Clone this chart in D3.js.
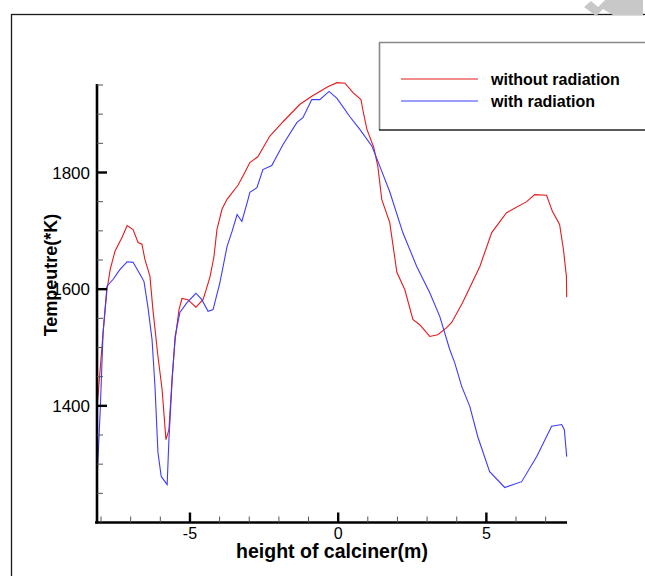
<!DOCTYPE html>
<html>
<head>
<meta charset="utf-8">
<script src="https://cdn.jsdelivr.net/npm/d3@7"></script>
<style>
    body { margin: 0; background: #fff; }
    svg { display: block; font-family: "Liberation Sans", Arial, sans-serif; }
</style>
</head>
<body>
<script>
// data: height (m) vs temperature (K)
const withoutRadX = [-8.13, -7.93, -7.80, -7.69, -7.53, -7.29, -7.12, -6.92, -6.75, -6.62, -6.52, -6.35, -6.25, -6.08, -5.94, -5.81, -5.71, -5.60, -5.50, -5.37, -5.27, -5.07, -4.80, -4.56, -4.43, -4.32, -4.19, -4.09, -3.92, -3.75, -3.37, -3.15, -2.98, -2.71, -2.31, -1.86, -1.29, -0.85, -0.62, -0.35, -0.04, 0.23, 0.50, 0.77, 0.83, 0.97, 1.20, 1.34, 1.47, 1.74, 1.98, 2.25, 2.52, 2.75, 3.09, 3.36, 3.66, 3.83, 4.20, 4.78, 5.18, 5.68, 6.36, 6.63, 7.03, 7.23, 7.47, 7.60, 7.70, 7.71];
const withoutRadT = [1399, 1526, 1599, 1634, 1665, 1689, 1709, 1702, 1680, 1677, 1651, 1622, 1565, 1485, 1428, 1342, 1359, 1450, 1514, 1565, 1584, 1582, 1569, 1582, 1603, 1622, 1656, 1702, 1737, 1754, 1779, 1800, 1817, 1827, 1862, 1887, 1917, 1932, 1939, 1947, 1954, 1953, 1937, 1925, 1908, 1874, 1843, 1810, 1754, 1714, 1629, 1599, 1548, 1539, 1519, 1522, 1534, 1543, 1577, 1639, 1697, 1731, 1750, 1762, 1761, 1733, 1711, 1668, 1622, 1586];

const withRadX = [-8.13, -8.03, -7.93, -7.80, -7.59, -7.36, -7.12, -6.92, -6.68, -6.55, -6.42, -6.28, -6.18, -6.08, -5.97, -5.77, -5.71, -5.60, -5.50, -5.34, -5.10, -4.80, -4.60, -4.39, -4.22, -3.99, -3.75, -3.58, -3.41, -3.25, -3.04, -2.98, -2.74, -2.54, -2.24, -1.86, -1.39, -1.19, -0.89, -0.62, -0.31, -0.04, 0.39, 0.73, 1.14, 1.41, 1.74, 2.18, 2.65, 3.09, 3.43, 3.76, 3.93, 4.17, 4.44, 4.71, 5.11, 5.62, 6.19, 6.70, 7.20, 7.54, 7.63, 7.71];
const withRadT = [1279, 1389, 1526, 1605, 1617, 1634, 1647, 1646, 1625, 1613, 1570, 1514, 1433, 1320, 1279, 1265, 1342, 1445, 1519, 1560, 1577, 1593, 1582, 1562, 1565, 1611, 1673, 1699, 1728, 1716, 1754, 1766, 1774, 1805, 1812, 1848, 1886, 1894, 1925, 1925, 1939, 1927, 1896, 1874, 1845, 1810, 1767, 1697, 1639, 1594, 1553, 1497, 1474, 1433, 1399, 1347, 1287, 1260, 1270, 1313, 1365, 1368, 1359, 1313];

const seriesNames = ["without radiation", "with radiation"];
const xMajorTicks = [-5, 0, 5];
const xMinorTicks = [-8, -7, -6, -4, -3, -2, -1, 1, 2, 3, 4, 6, 7];
const yMajorTicks = [1400, 1600, 1800];
const yMinorTicks = [1250, 1300, 1350, 1450, 1500, 1550, 1650, 1700, 1750, 1850, 1900, 1950];

document.addEventListener("DOMContentLoaded", () => {
    const width = 645,
        height = 576;

    const svg = d3.select("body").append("svg")
        .attr("width", width)
        .attr("height", height);

    // outer frame (runs off the page on the right and bottom)
    svg.append("rect")
        .attr("x", 11.5).attr("y", 14.5)
        .attr("width", 700).attr("height", 700)
        .attr("fill", "none")
        .attr("stroke", "#1a1a1a")
        .attr("stroke-width", 1.3);

    // grey watermark corner
    svg.append("path")
        .attr("d", "M584,7 L591,1 L598,7 L605,0 L643,0 L643,15 L613,15 L603,9 L596,16 Z")
        .attr("fill", "#c8c8c8");

    const x = d3.scaleLinear()
        .domain([-8.17, 7.72])
        .range([96, 567]);

    const y = d3.scaleLinear()
        .domain([1200, 1950])
        .range([522.5, 85]);

    const line = d3.line()
        .x(d => x(d[0]))
        .y(d => y(d[1]));

    const series = [
        { name: seriesNames[0], color: "#e41a1c", pts: d3.zip(withoutRadX, withoutRadT) },
        { name: seriesNames[1], color: "#3c3cff", pts: d3.zip(withRadX, withRadT) }
    ];

    svg.append("g")
        .selectAll("path")
        .data(series)
        .enter().append("path")
        .attr("d", d => line(d.pts))
        .attr("fill", "none")
        .attr("stroke", d => d.color)
        .attr("stroke-width", 1.1);

    // axes, ticks point inward like the original
    const xAxis = svg.append("g")
        .attr("transform", `translate(0,${y(1200)})`);
    xAxis.append("line")
        .attr("x1", x.range()[0] - 1).attr("x2", x.range()[1])
        .attr("stroke", "#000").attr("stroke-width", 2.6);
    xAxis.selectAll(".minor")
        .data(xMinorTicks)
        .enter().append("line")
        .attr("x1", d => x(d)).attr("x2", d => x(d))
        .attr("y1", 0).attr("y2", -6)
        .attr("stroke", "#555").attr("stroke-width", 1);
    xAxis.selectAll(".major")
        .data(xMajorTicks)
        .enter().append("line")
        .attr("x1", d => x(d)).attr("x2", d => x(d))
        .attr("y1", 0).attr("y2", -10)
        .attr("stroke", "#000").attr("stroke-width", 2.4);
    xAxis.selectAll("text")
        .data(xMajorTicks)
        .enter().append("text")
        .attr("x", d => x(d))
        .attr("y", 16)
        .attr("text-anchor", "middle")
        .attr("font-size", 16)
        .text(d => d);

    const yAxis = svg.append("g")
        .attr("transform", `translate(${x.range()[0] + 1},0)`);
    yAxis.append("line")
        .attr("y1", y.range()[1] - 1).attr("y2", y.range()[0] + 1)
        .attr("stroke", "#000").attr("stroke-width", 2.6);
    yAxis.selectAll(".minor")
        .data(yMinorTicks)
        .enter().append("line")
        .attr("y1", d => y(d)).attr("y2", d => y(d))
        .attr("x1", 0).attr("x2", 6)
        .attr("stroke", "#555").attr("stroke-width", 1);
    yAxis.selectAll(".major")
        .data(yMajorTicks)
        .enter().append("line")
        .attr("y1", d => y(d)).attr("y2", d => y(d))
        .attr("x1", 0).attr("x2", 10)
        .attr("stroke", "#000").attr("stroke-width", 2.4);
    yAxis.selectAll("text")
        .data(yMajorTicks)
        .enter().append("text")
        .attr("x", -7)
        .attr("y", d => y(d) + 6)
        .attr("text-anchor", "end")
        .attr("font-size", 17)
        .text(d => d);

    // axis titles
    svg.append("text")
        .attr("x", 332)
        .attr("y", 558)
        .attr("text-anchor", "middle")
        .attr("font-size", 19.5)
        .attr("font-weight", "bold")
        .text("height of calciner(m)");

    svg.append("text")
        .attr("transform", "translate(57,275) rotate(-90)")
        .attr("text-anchor", "middle")
        .attr("font-size", 18)
        .attr("font-weight", "bold")
        .text("Tempeutre(*K)");

    // legend box
    const legend = svg.append("g");
    legend.append("line")
        .attr("x1", 379.5).attr("x2", 379.5).attr("y1", 42.5).attr("y2", 130)
        .attr("stroke", "#888").attr("stroke-width", 1.6);
    legend.append("line")
        .attr("x1", 379).attr("x2", 645).attr("y1", 42.5).attr("y2", 42.5)
        .attr("stroke", "#888").attr("stroke-width", 1.6);
    legend.append("line")
        .attr("x1", 379).attr("x2", 645).attr("y1", 130).attr("y2", 130)
        .attr("stroke", "#222").attr("stroke-width", 1.6);

    const items = legend.selectAll(".item")
        .data(series)
        .enter().append("g")
        .attr("transform", (d, i) => `translate(0,${79 + i * 22})`);
    items.append("line")
        .attr("x1", 401).attr("x2", 478)
        .attr("stroke", d => d.color)
        .attr("stroke-width", 1.1);
    items.append("text")
        .attr("x", 491)
        .attr("y", 6)
        .attr("font-size", 16)
        .attr("font-weight", "bold")
        .text(d => d.name);
});
</script>
</body>
</html>
